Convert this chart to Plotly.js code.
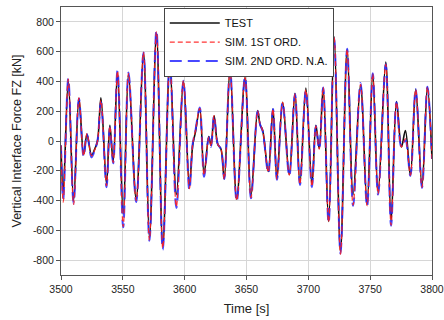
<!DOCTYPE html>
<html>
<head>
<meta charset="utf-8">
<script src="https://cdn.plot.ly/plotly-3.0.1.min.js"></script>
<style>html,body{margin:0;padding:0;background:#fff;}#chart{width:444px;height:320px;}</style>
</head>
<body>
<div id="chart"></div>
<script>
// Time [s] of the turning points
const time = [3500.0, 3501.8, 3505.9, 3510.2, 3514.5, 3518.3, 3521.0, 3524.7, 3527.0, 3529.5,
  3532.3, 3536.8, 3539.5, 3542.2, 3545.7, 3550.3, 3554.6, 3560.8, 3566.7, 3571.5,
  3577.2, 3582.3, 3588.0, 3593.3, 3599.0, 3603.8, 3606.5, 3608.7, 3612.2, 3615.7,
  3619.5, 3621.3, 3623.8, 3626.7, 3629.4, 3632.0, 3636.7, 3642.1, 3648.8, 3653.6,
  3659.0, 3661.0, 3663.1, 3667.6, 3671.4, 3674.6, 3679.2, 3684.6, 3689.2, 3693.2,
  3698.0, 3702.9, 3706.1, 3708.8, 3712.0, 3716.4, 3720.9, 3726.0, 3731.4, 3736.2,
  3742.2, 3747.5, 3752.1, 3756.4, 3762.6, 3766.9, 3771.3, 3775.3, 3778.5, 3782.5,
  3786.8, 3791.9, 3796.3, 3800.0];

// Vertical interface force FZ [kN]
const fzTest = [-30, -340, 405, -400, 285, -90, 45, -95, -60, 0,
  290, -290, 105, -140, 460, -490, 450, -390, 590, -650,
  720, -700, 520, -360, 400, -300, -30, 60, 215, -220,
  30, -30, 170, -20, -55, -255, 480, -390, 425, -370,
  205, 110, 70, -205, 215, -250, 260, -225, 320, -285,
  355, -290, 105, -50, 355, -540, 700, -740, 615, -360,
  375, -425, 450, -345, 530, -540, 265, -40, 70, -230,
  345, -300, 360, -120];

const fzSim1 = [-30, -410, 415, -425, 290, -100, 50, -100, -65, 0,
  275, -300, 100, -145, 470, -575, 455, -400, 595, -665,
  735, -720, 525, -440, 405, -320, -20, 70, 220, -230,
  25, -35, 170, -20, -55, -255, 480, -400, 425, -380,
  200, 115, 70, -210, 215, -255, 260, -230, 315, -290,
  345, -305, 100, -55, 360, -545, 695, -760, 615, -430,
  380, -435, 450, -355, 515, -565, 260, -40, 15, -230,
  345, -310, 360, -120];

const fzSim2 = [-30, -390, 420, -420, 285, -105, 47, -110, -70, 2,
  260, -310, 90, -150, 475, -580, 460, -410, 595, -670,
  745, -730, 530, -450, 405, -330, -20, 70, 225, -240,
  25, -40, 170, -20, -55, -255, 485, -405, 430, -385,
  200, 110, 65, -215, 215, -260, 260, -235, 315, -295,
  340, -310, 100, -55, 360, -550, 690, -755, 620, -435,
  390, -440, 455, -360, 515, -570, 260, -40, 5, -235,
  350, -315, 365, -120];

const seriesNames = ['TEST', 'SIM. 1ST ORD.', 'SIM. 2ND ORD. N.A.'];
const xTicks = [3500, 3550, 3600, 3650, 3700, 3750, 3800];
const yTicks = [-800, -600, -400, -200, 0, 200, 400, 600, 800];

const font = 'Liberation Sans, Arial, Helvetica, sans-serif';

const traces = [
  {x: time, y: fzTest, name: seriesNames[0], type: 'scatter', mode: 'lines',
   line: {color: '#111111', width: 1.6, shape: 'spline', smoothing: 1}, legendrank: 1},
  {x: time, y: fzSim2, name: seriesNames[2], type: 'scatter', mode: 'lines',
   line: {color: 'rgba(40,40,255,0.85)', width: 2, dash: '12px,6px', shape: 'spline', smoothing: 1}, legendrank: 3},
  {x: time, y: fzSim1, name: seriesNames[1], type: 'scatter', mode: 'lines',
   line: {color: 'rgba(255,30,30,0.9)', width: 1.2, dash: '5px,3px', shape: 'spline', smoothing: 1}, legendrank: 2}
];

const axisCommon = {
  showgrid: true, gridcolor: '#d6d6d6', gridwidth: 1,
  showline: true, linecolor: '#555555', linewidth: 1, mirror: true,
  ticks: 'outside', ticklen: 4, tickcolor: '#555555',
  tickfont: {family: font, size: 10.5, color: '#222222'},
  ticklabeloverflow: 'allow',
  zeroline: false
};

const layout = {
  width: 444, height: 320,
  margin: {l: 61, r: 12, t: 7, b: 45},
  paper_bgcolor: '#ffffff', plot_bgcolor: '#ffffff',
  font: {family: font, color: '#222222'},
  showlegend: true,
  legend: {x: 0.277, y: 0.998, xanchor: 'left', yanchor: 'top',
    bgcolor: '#ffffff', bordercolor: '#444444', borderwidth: 1,
    font: {family: font, size: 11, color: '#111111'}, itemwidth: 50, tracegroupgap: 0},
  xaxis: Object.assign({}, axisCommon, {
    range: [3500, 3800], tickvals: xTicks, ticktext: xTicks.map(String),
    title: {text: 'Time [s]', font: {family: font, size: 13, color: '#222222'}, standoff: 10}
  }),
  yaxis: Object.assign({}, axisCommon, {
    range: [-900, 900], tickvals: yTicks, ticktext: yTicks.map(String),
    title: {text: 'Vertical Interface Force FZ [kN]', font: {family: font, size: 12.5, color: '#222222'}, standoff: 8}
  })
};

Plotly.newPlot('chart', traces, layout, {staticPlot: true, displayModeBar: false});
</script>
</body>
</html>
